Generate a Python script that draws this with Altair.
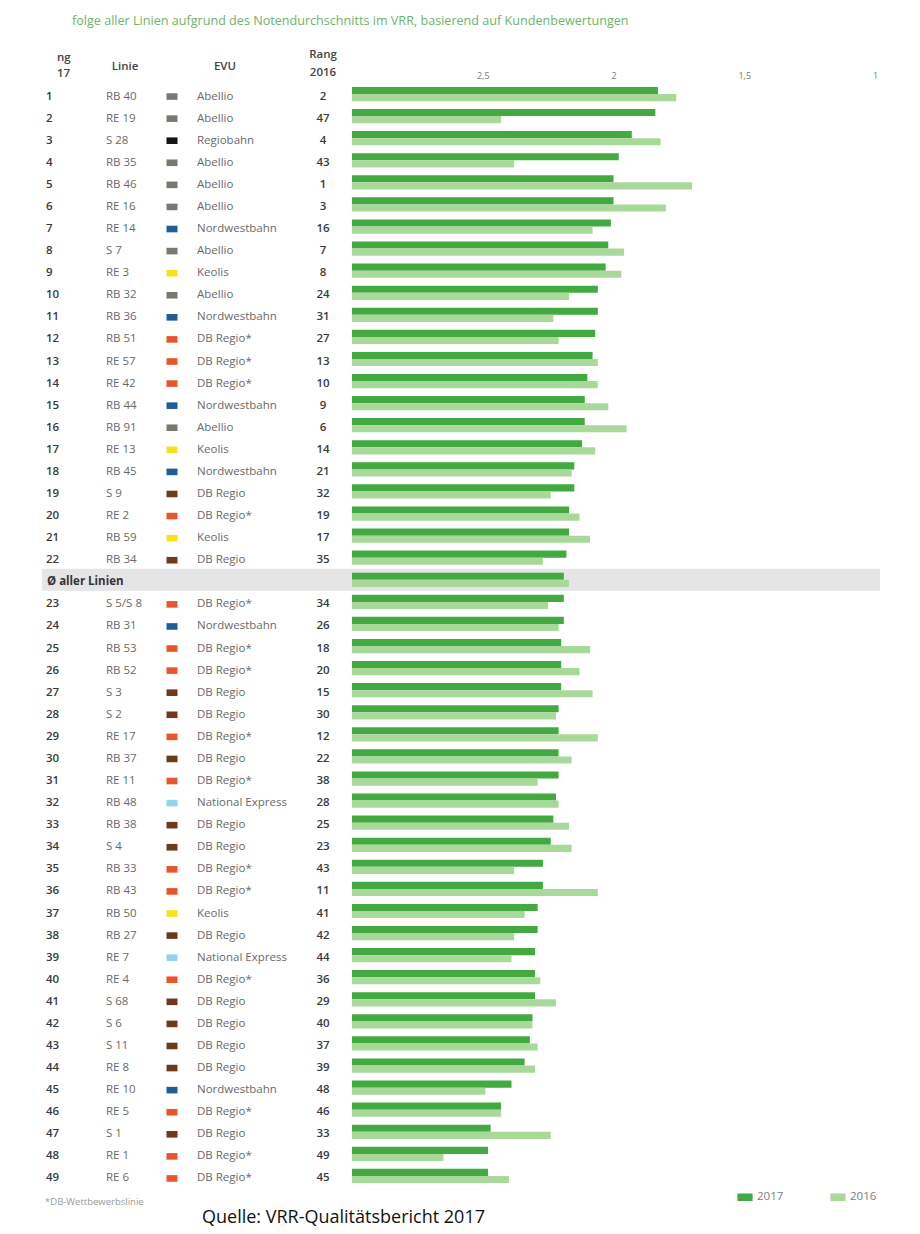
import altair as alt
import pandas as pd

# ---------------- data ----------------
rang_2017 = [1, 2, 3, 4, 5, 6, 7, 8, 9, 10, 11, 12, 13, 14, 15, 16, 17, 18, 19, 20, 21, 22,
             23, 24, 25, 26, 27, 28, 29, 30, 31, 32, 33, 34, 35, 36, 37, 38, 39, 40, 41, 42,
             43, 44, 45, 46, 47, 48, 49]
linie = ["RB 40", "RE 19", "S 28", "RB 35", "RB 46", "RE 16", "RE 14", "S 7", "RE 3", "RB 32",
         "RB 36", "RB 51", "RE 57", "RE 42", "RB 44", "RB 91", "RE 13", "RB 45", "S 9", "RE 2",
         "RB 59", "RB 34", "S 5/S 8", "RB 31", "RB 53", "RB 52", "S 3", "S 2", "RE 17", "RB 37",
         "RE 11", "RB 48", "RB 38", "S 4", "RB 33", "RB 43", "RB 50", "RB 27", "RE 7", "RE 4",
         "S 68", "S 6", "S 11", "RE 8", "RE 10", "RE 5", "S 1", "RE 1", "RE 6"]
evu = ["Abellio", "Abellio", "Regiobahn", "Abellio", "Abellio", "Abellio", "Nordwestbahn",
       "Abellio", "Keolis", "Abellio", "Nordwestbahn", "DB Regio*", "DB Regio*", "DB Regio*",
       "Nordwestbahn", "Abellio", "Keolis", "Nordwestbahn", "DB Regio", "DB Regio*", "Keolis",
       "DB Regio", "DB Regio*", "Nordwestbahn", "DB Regio*", "DB Regio*", "DB Regio", "DB Regio",
       "DB Regio*", "DB Regio", "DB Regio*", "National Express", "DB Regio", "DB Regio",
       "DB Regio*", "DB Regio*", "Keolis", "DB Regio", "National Express", "DB Regio*",
       "DB Regio", "DB Regio", "DB Regio", "DB Regio", "Nordwestbahn", "DB Regio*", "DB Regio",
       "DB Regio*", "DB Regio*"]
rang_2016 = [2, 47, 4, 43, 1, 3, 16, 7, 8, 24, 31, 27, 13, 10, 9, 6, 14, 21, 32, 19, 17, 35,
             34, 26, 18, 20, 15, 30, 12, 22, 38, 28, 25, 23, 43, 11, 41, 42, 44, 36, 29, 40,
             37, 39, 48, 46, 33, 49, 45]
note_2017 = [1.83, 1.84, 1.93, 1.98, 2.00, 2.00, 2.01, 2.02, 2.03, 2.06, 2.06, 2.07, 2.08,
             2.10, 2.11, 2.11, 2.12, 2.15, 2.15, 2.17, 2.17, 2.18, 2.19, 2.19, 2.20, 2.20,
             2.20, 2.21, 2.21, 2.21, 2.21, 2.22, 2.23, 2.24, 2.27, 2.27, 2.29, 2.29, 2.30,
             2.30, 2.30, 2.31, 2.32, 2.34, 2.39, 2.43, 2.47, 2.48, 2.48]
note_2016 = [1.76, 2.43, 1.82, 2.38, 1.70, 1.80, 2.08, 1.96, 1.97, 2.17, 2.23, 2.21, 2.06,
             2.06, 2.02, 1.95, 2.07, 2.16, 2.24, 2.13, 2.09, 2.27, 2.25, 2.21, 2.09, 2.13,
             2.08, 2.22, 2.06, 2.16, 2.29, 2.21, 2.17, 2.16, 2.38, 2.06, 2.34, 2.38, 2.39,
             2.28, 2.22, 2.31, 2.29, 2.30, 2.49, 2.43, 2.24, 2.65, 2.40]
avg_label = "Ø aller Linien"
avg_2017 = 2.19
avg_2016 = 2.17
avg_after_rank = 22

evu_names = ["Abellio", "Regiobahn", "Nordwestbahn", "Keolis", "DB Regio*", "DB Regio",
             "National Express"]
evu_colors = ["#7a7870", "#151515", "#1f5d96", "#f5e21c", "#e8542b", "#6d3a1d", "#92d4ec"]
years = ["2017", "2016"]
year_colors = ["#42aa41", "#a8d99a"]
tick_values = [2.5, 2, 1.5, 1]

title_text = "folge aller Linien aufgrund des Notendurchschnitts im VRR, basierend auf Kundenbewertungen"
footnote_text = "*DB-Wettbewerbslinie"
source_text = "Quelle: VRR-Qualitätsbericht 2017"

# ---------------- tables ----------------
keys = []
for r in rang_2017:
    keys.append(f"r{r}")
    if r == avg_after_rank:
        keys.append("avg")

tbl = pd.DataFrame({
    "key": [f"r{r}" for r in rang_2017],
    "rang17": [str(r) for r in rang_2017],
    "linie": linie,
    "evu": evu,
    "rang16": [str(r) for r in rang_2016],
})
avg_df = pd.DataFrame({"key": ["avg"], "label": [avg_label]})

bar_rows = []
for r, a, b in zip(rang_2017, note_2017, note_2016):
    bar_rows.append({"key": f"r{r}", "year": "2017", "note": a})
    bar_rows.append({"key": f"r{r}", "year": "2016", "note": b})
bar_rows.append({"key": "avg", "year": "2017", "note": avg_2017})
bar_rows.append({"key": "avg", "year": "2016", "note": avg_2016})
bars_df = pd.DataFrame(bar_rows)

one = pd.DataFrame({"d": [0]})

# ---------------- layout ----------------
W, H = 836, 1104
FONT = "Open Sans"
FS = 11.5
DY = 2.5

yenc = alt.Y("key:N", scale=alt.Scale(domain=keys, paddingInner=0, paddingOuter=0), axis=None)

band = alt.Chart(avg_df).mark_rect(color="#e5e5e5").encode(
    y=yenc, x=alt.value(-2), x2=alt.value(W)
)

bars = alt.Chart(bars_df).mark_bar().encode(
    x=alt.X("note:Q",
            scale=alt.Scale(domain=[3, 1], range=[308, 831], nice=False, zero=False),
            axis=alt.Axis(orient="top", values=tick_values,
                          labelExpr="replace(format(datum.value, '.1~f'), '.', ',')",
                          domain=False, ticks=False, grid=False, labelFlush=False,
                          labelColor="#7a7a7a", labelFontSize=9, labelFont=FONT,
                          labelPadding=3, title=None)),
    x2=alt.datum(3),
    y=yenc,
    yOffset=alt.YOffset("year:N", sort=years,
                        scale=alt.Scale(domain=years, paddingInner=0, paddingOuter=0.55)),
    color=alt.Color("year:N", scale=alt.Scale(domain=years, range=year_colors),
                    legend=alt.Legend(orient="none", legendX=693, legendY=1106,
                                      direction="horizontal", title=None,
                                      symbolType="M-1,-0.5L1,-0.5L1,0.5L-1,0.5Z",
                                      symbolSize=230, symbolStrokeWidth=0,
                                      labelFont=FONT, labelFontSize=11.5,
                                      labelColor="#808080", labelOffset=4,
                                      columnPadding=46, padding=0)),
)

def txt(field, xpos, align="left", weight="normal", color="#6a6a6a"):
    return alt.Chart(tbl).mark_text(align=align, baseline="middle", dy=DY, font=FONT,
                                    fontSize=FS, fontWeight=weight, color=color).encode(
        x=alt.value(xpos), y=yenc, text=f"{field}:N")

t_r17 = txt("rang17", 2, weight=600, color="#3a3a3a")
t_lin = txt("linie", 62)
t_evu = txt("evu", 153)
t_r16 = txt("rang16", 279, align="center", weight=600, color="#3a3a3a")

squares = alt.Chart(tbl).mark_point(shape="M-1,-0.6L1,-0.6L1,0.6L-1,0.6Z", filled=True,
                                    size=121, opacity=1, strokeWidth=0, yOffset=DY).encode(
    x=alt.value(128), y=yenc,
    fill=alt.Fill("evu:N", scale=alt.Scale(domain=evu_names, range=evu_colors), legend=None),
)

t_avg = alt.Chart(avg_df).mark_text(align="left", baseline="middle", dy=DY, font=FONT,
                                    fontSize=FS, fontWeight="bold", color="#333333").encode(
    x=alt.value(3), y=yenc, text="label:N")

def label(text, xpos, ypos, align="left", size=11.5, weight="normal", color="#444444", font=FONT):
    return alt.Chart(one).mark_text(align=align, baseline="middle", font=font, fontSize=size,
                                    fontWeight=weight, color=color, text=text).encode(
        x=alt.value(xpos), y=alt.value(ypos))

headers = [
    label(title_text, 28, -62, size=12.6, color="#6db56a"),
    label("ng", 13, -25, weight=600),
    label("17", 13, -9, weight=600),
    label("Linie", 81, -16, align="center", weight=600),
    label("EVU", 181, -16, align="center", weight=600),
    label("Rang", 279, -28, align="center", weight=600),
    label("2016", 279, -10, align="center", weight=600),
    label(footnote_text, 1, 1119, size=9.5, color="#9a9a9a"),
    label(source_text, 158, 1135, size=18, color="#111111"),
]

chart = alt.layer(band, bars, t_r17, t_lin, squares, t_evu, t_r16, t_avg, *headers).properties(
    width=W, height=H,
    background="white",
    autosize=alt.AutoSizeParams(type="none"),
    padding={"top": 75, "left": 36, "right": 32, "bottom": 47},
).configure_view(stroke=None, strokeWidth=0)

chart.save("out.html", embed_options={"renderer": "svg", "actions": False})
